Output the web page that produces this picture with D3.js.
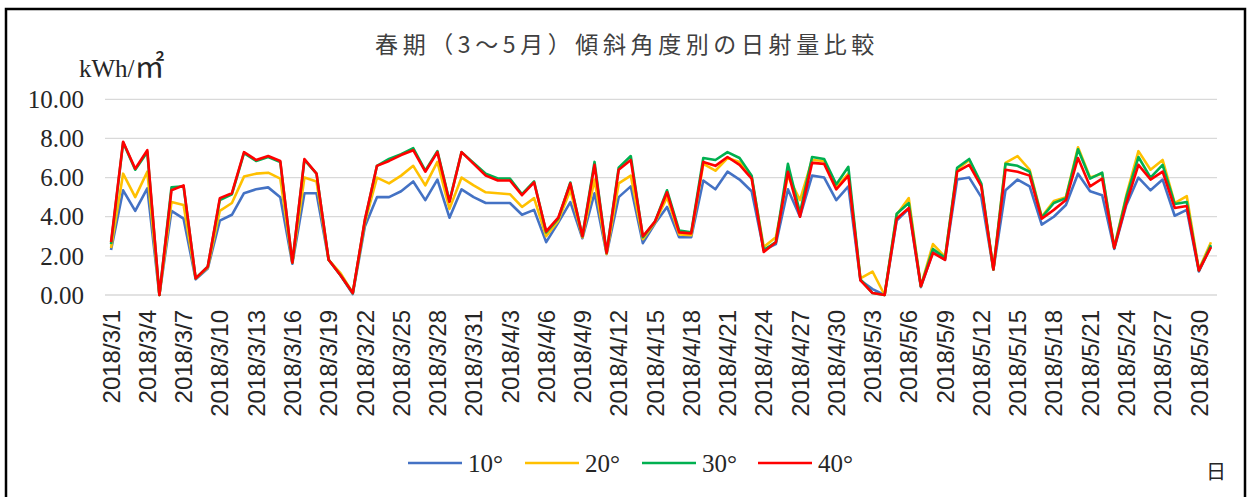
<!DOCTYPE html>
<html><head><meta charset="utf-8">
<script src="https://cdn.jsdelivr.net/npm/d3@7"></script>
<style>html,body{margin:0;padding:0;background:#fff;}svg{display:block;}
.serif{font-family:"Liberation Serif","DejaVu Serif",serif;}
.sans{font-family:"Liberation Sans","DejaVu Sans",sans-serif;}
.cjk{font-family:"Noto Sans CJK JP","Noto Sans CJK SC",sans-serif;}
</style>
</head><body>
<svg id="chart" width="1249" height="497"></svg>
<script>
const dates = ["2018/3/1","2018/3/2","2018/3/3","2018/3/4","2018/3/5","2018/3/6","2018/3/7","2018/3/8","2018/3/9","2018/3/10",
"2018/3/11","2018/3/12","2018/3/13","2018/3/14","2018/3/15","2018/3/16","2018/3/17","2018/3/18","2018/3/19","2018/3/20",
"2018/3/21","2018/3/22","2018/3/23","2018/3/24","2018/3/25","2018/3/26","2018/3/27","2018/3/28","2018/3/29","2018/3/30","2018/3/31",
"2018/4/1","2018/4/2","2018/4/3","2018/4/4","2018/4/5","2018/4/6","2018/4/7","2018/4/8","2018/4/9","2018/4/10",
"2018/4/11","2018/4/12","2018/4/13","2018/4/14","2018/4/15","2018/4/16","2018/4/17","2018/4/18","2018/4/19","2018/4/20",
"2018/4/21","2018/4/22","2018/4/23","2018/4/24","2018/4/25","2018/4/26","2018/4/27","2018/4/28","2018/4/29","2018/4/30",
"2018/5/1","2018/5/2","2018/5/3","2018/5/4","2018/5/5","2018/5/6","2018/5/7","2018/5/8","2018/5/9","2018/5/10",
"2018/5/11","2018/5/12","2018/5/13","2018/5/14","2018/5/15","2018/5/16","2018/5/17","2018/5/18","2018/5/19","2018/5/20",
"2018/5/21","2018/5/22","2018/5/23","2018/5/24","2018/5/25","2018/5/26","2018/5/27","2018/5/28","2018/5/29","2018/5/30","2018/5/31"];

const tickLabels = ["2018/3/1","2018/3/4","2018/3/7","2018/3/10","2018/3/13","2018/3/16","2018/3/19","2018/3/22","2018/3/25","2018/3/28","2018/3/31",
"2018/4/3","2018/4/6","2018/4/9","2018/4/12","2018/4/15","2018/4/18","2018/4/21","2018/4/24","2018/4/27","2018/4/30",
"2018/5/3","2018/5/6","2018/5/9","2018/5/12","2018/5/15","2018/5/18","2018/5/21","2018/5/24","2018/5/27","2018/5/30"];

const yTicks = [0, 2, 4, 6, 8, 10];

const seriesNames = ["10°", "20°", "30°", "40°"];

const deg10 = [2.3,5.35,4.3,5.45,0,4.3,3.9,0.8,1.35,3.8,
4.1,5.2,5.4,5.5,5.0,1.6,5.2,5.2,1.8,1.0,
0.05,3.5,5.0,5.0,5.3,5.8,4.85,5.9,3.95,5.4,5.0,
4.7,4.7,4.7,4.1,4.35,2.7,3.7,4.75,2.9,5.2,
2.1,5.0,5.55,2.65,3.65,4.5,2.95,2.95,5.85,5.4,
6.3,5.9,5.3,2.3,2.6,5.4,4.0,6.1,6.0,4.85,
5.55,0.75,0.3,0,3.8,4.4,0.4,2.2,1.8,5.9,
6.0,5.0,1.3,5.35,5.9,5.55,3.6,4.0,4.6,6.2,
5.3,5.1,2.35,4.6,6.0,5.35,5.9,4.05,4.35,1.2,2.5];

const deg20 = [2.4,6.2,5.0,6.3,0,4.75,4.6,0.85,1.4,4.3,
4.7,6.05,6.2,6.25,5.95,1.65,6.0,5.8,1.8,1.1,
0.1,3.7,6.0,5.7,6.1,6.6,5.6,6.8,4.4,6.0,5.6,
5.25,5.2,5.15,4.5,4.95,3.0,3.8,5.35,2.95,5.9,
2.1,5.7,6.1,2.85,3.7,5.0,3.1,3.05,6.7,6.35,
7.0,6.8,6.0,2.45,2.95,6.1,4.85,6.9,6.85,5.5,
6.2,0.85,1.2,0,4.1,4.95,0.45,2.6,1.95,6.4,
6.9,5.6,1.3,6.75,7.1,6.4,4.0,4.8,5.0,7.55,
6.0,6.2,2.45,5.1,7.35,6.4,6.9,4.7,5.05,1.3,2.7];

const deg30 = [2.6,7.8,6.4,7.3,0,5.5,5.55,0.85,1.45,4.85,
5.15,7.25,6.85,7.05,6.8,1.65,6.9,6.2,1.8,1.0,
0.1,3.8,6.6,6.95,7.2,7.5,6.35,7.35,4.8,7.3,6.75,
6.2,5.95,5.95,5.15,5.8,3.2,3.9,5.75,3.0,6.8,
2.15,6.5,7.1,2.95,3.75,5.35,3.3,3.2,7.0,6.9,
7.3,7.0,6.1,2.3,2.7,6.7,4.2,7.05,6.95,5.65,
6.55,0.8,0.1,0,4.15,4.7,0.45,2.35,1.9,6.5,
6.95,5.7,1.3,6.7,6.6,6.3,3.95,4.7,4.95,7.45,
5.95,6.25,2.4,5.0,7.05,6.0,6.65,4.65,4.75,1.25,2.55];

const deg40 = [2.7,7.83,6.45,7.4,0,5.35,5.6,0.85,1.45,4.95,
5.2,7.3,6.9,7.1,6.85,1.65,6.95,6.2,1.8,1.0,
0.1,3.85,6.6,6.85,7.15,7.4,6.3,7.3,4.75,7.3,6.7,
6.1,5.85,5.85,5.1,5.75,3.25,3.95,5.7,3.0,6.65,
2.15,6.4,6.9,3.0,3.75,5.25,3.2,3.15,6.8,6.6,
7.05,6.65,5.95,2.2,2.7,6.3,4.0,6.75,6.7,5.4,
6.1,0.75,0.1,0,3.9,4.45,0.45,2.15,1.8,6.3,
6.65,5.55,1.3,6.4,6.3,6.1,3.9,4.35,4.85,7.0,
5.55,5.95,2.4,4.7,6.65,5.9,6.3,4.45,4.55,1.25,2.45];

const colors = ["#4472C4", "#FFC000", "#00B050", "#FF0000"];
const allSeries = [deg10, deg20, deg30, deg40];

const svg = d3.select("#chart");

// frame
svg.append("rect").attr("x", 0).attr("y", 0).attr("width", 1249).attr("height", 497).attr("fill", "#fff");
svg.append("path").attr("d", "M6,520 V9 H1245 V520").attr("fill", "none").attr("stroke", "#000").attr("stroke-width", 2.5);

const x = d3.scaleBand().domain(dates).range([105, 1217]).padding(0);
const y = d3.scaleLinear().domain([0, 10]).range([295, 99.3]);

// gridlines
svg.append("g").selectAll("line").data(yTicks).join("line")
  .attr("x1", 105).attr("x2", 1217)
  .attr("y1", d => y(d)).attr("y2", d => y(d))
  .attr("stroke", "#d9d9d9").attr("stroke-width", 1.3);

// y tick labels
svg.append("g").selectAll("text").data(yTicks).join("text")
  .attr("class", "serif")
  .attr("x", 84).attr("y", d => y(d)).attr("dy", "0.35em")
  .attr("text-anchor", "end")
  .attr("font-size", 25).attr("fill", "#262626")
  .text(d => d.toFixed(2));

// y unit label
const unit = svg.append("text").attr("class", "serif").attr("x", 79).attr("y", 77)
  .attr("font-size", 25).attr("fill", "#262626");
unit.append("tspan").text("kWh/");
unit.append("tspan").attr("class", "cjk").attr("font-size", 30).text("㎡");

// x tick labels
const cx = d => x(d) + x.bandwidth() / 2;
svg.append("g").selectAll("text").data(tickLabels).join("text")
  .attr("class", "sans")
  .attr("transform", d => `translate(${cx(d)},310) rotate(-90)`)
  .attr("dy", "0.36em")
  .attr("text-anchor", "end")
  .attr("font-size", 24).attr("fill", "#262626")
  .text(d => d);

// lines
const line = d3.line().x((d, i) => cx(dates[i])).y(d => y(d));
svg.append("g").selectAll("path").data(allSeries).join("path")
  .attr("d", d => line(d))
  .attr("fill", "none")
  .attr("stroke", (d, i) => colors[i])
  .attr("stroke-width", 2.6)
  .attr("stroke-linejoin", "round");

// title
svg.append("text").attr("class", "cjk").attr("x", 627).attr("y", 53).attr("text-anchor", "middle")
  .attr("font-size", 23).attr("letter-spacing", 4.6).attr("fill", "#404040")
  .text("春期（3～5月）傾斜角度別の日射量比較");

// legend
const legendX = [408, 525, 642, 758];
const lg = svg.append("g").selectAll("g").data(seriesNames).join("g")
  .attr("transform", (d, i) => `translate(${legendX[i]},463)`);
lg.append("line").attr("x1", 0).attr("x2", 54).attr("y1", 0).attr("y2", 0)
  .attr("stroke", (d, i) => colors[i]).attr("stroke-width", 2.6);
lg.append("text").attr("class", "serif").attr("x", 60).attr("y", 0).attr("dy", "0.35em")
  .attr("font-size", 25).attr("fill", "#262626")
  .text(d => d);

// x unit
svg.append("text").attr("class", "cjk").attr("x", 1216).attr("y", 479).attr("text-anchor", "middle")
  .attr("font-size", 20).attr("fill", "#262626")
  .text("日");
</script>
</body></html>
